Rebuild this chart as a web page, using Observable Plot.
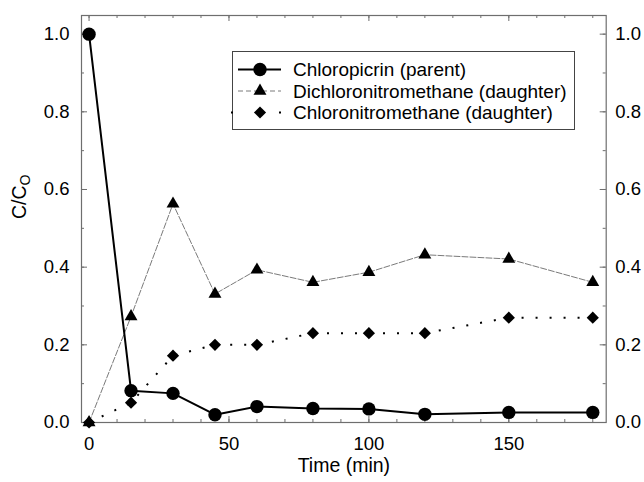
<!DOCTYPE html>
<html><head><meta charset="utf-8">
<script src="https://cdn.jsdelivr.net/npm/d3@7"></script>
<script src="https://cdn.jsdelivr.net/npm/@observablehq/plot@0.6"></script>
<style>
body{margin:0;background:#fff;}
#chart{width:644px;height:482px;}
</style>
</head><body><div id="chart"></div>
<script>
// ---- data ----
const times        = [0, 15, 30, 45, 60, 80, 100, 120, 150, 180];
const chloropicrin = [1.0, 0.082, 0.075, 0.02, 0.041, 0.036, 0.035, 0.021, 0.026, 0.026];
const dichloro     = [0, 0.273, 0.563, 0.331, 0.393, 0.361, 0.387, 0.432, 0.421, 0.361];
const chloronitro  = [0, 0.051, 0.172, 0.2, 0.2, 0.23, 0.23, 0.23, 0.27, 0.27];
const seriesNames  = ["Chloropicrin (parent)", "Dichloronitromethane (daughter)", "Chloronitromethane (daughter)"];
const xMajorTicks  = [0, 50, 100, 150];
const xMinorTicks  = [0, 10, 20, 30, 40, 50, 60, 70, 80, 90, 100, 110, 120, 130, 140, 150, 160, 170, 180];
const yMajorTicks  = [0, 0.2, 0.4, 0.6, 0.8, 1.0];
const yMinorTicks  = [0, 0.1, 0.2, 0.3, 0.4, 0.5, 0.6, 0.7, 0.8, 0.9, 1.0];
const xTitle = "Time (min)";
const yTitle = "C/C";
const yTitleSub = "O";

// ---- layout ----
const W = 644, H = 482, mL = 81, mR = 38.3, mT = 15, mB = 60;
const plotW = W - mL - mR, plotH = H - mT - mB;
const axisGray = "#6e6e6e";
const font = "'Liberation Sans', Arial, sans-serif";

const rows = (vals) => times.map((t, i) => ({t, v: vals[i]}));
const dP = rows(chloropicrin), dD = rows(dichloro), dC = rows(chloronitro);

const styles = [
  {stroke: "#000", strokeWidth: 2, dash: null, symbol: "circle", r: 6.7},
  {stroke: "#7a7a7a", strokeWidth: 1, dash: "6 2", symbol: "triangle", r: 4.8},
  {stroke: "#000", strokeWidth: 2, dash: "2 12", symbol: "diamond2", r: 5.5}
];

const plot = Plot.plot({
  width: W, height: H,
  marginLeft: mL, marginRight: mR, marginTop: mT, marginBottom: mB,
  style: {fontFamily: font, fontSize: "18px", color: "#000", background: "#fff"},
  x: {domain: [-2.7, 184.8]},
  y: {domain: [0, 1.048]},
  marks: [
    // inward ticks
    Plot.ruleX(xMinorTicks, {x: d => d, insetTop: plotH - 3, stroke: axisGray}),
    Plot.ruleX(xMajorTicks, {x: d => d, insetTop: plotH - 6, stroke: axisGray}),
    Plot.ruleX(xMinorTicks, {x: d => d, insetBottom: plotH - 3, stroke: axisGray}),
    Plot.ruleX(xMajorTicks, {x: d => d, insetBottom: plotH - 6, stroke: axisGray}),
    Plot.ruleY(yMinorTicks, {y: d => d, insetRight: plotW - 3, stroke: axisGray}),
    Plot.ruleY(yMajorTicks, {y: d => d, insetRight: plotW - 6, stroke: axisGray}),
    Plot.ruleY(yMinorTicks, {y: d => d, insetLeft: plotW - 3, stroke: axisGray}),
    Plot.ruleY(yMajorTicks, {y: d => d, insetLeft: plotW - 6, stroke: axisGray}),
    Plot.frame({stroke: axisGray, strokeWidth: 1.2}),
    Plot.axisX(xMajorTicks, {anchor: "bottom", tickSize: 0, tickPadding: 14, label: null, fontSize: 18.5}),
    Plot.axisY(yMajorTicks, {anchor: "left", tickSize: 0, tickPadding: 12, label: null, tickFormat: d3.format(".1f"), fontSize: 18.5}),
    Plot.axisY(yMajorTicks, {anchor: "right", tickSize: 0, tickPadding: 9, label: null, tickFormat: d3.format(".1f"), fontSize: 18.5}),
    Plot.text([xTitle], {text: d => d, frameAnchor: "bottom", dy: 49, fontSize: 19.5}),
    Plot.text([yTitle], {text: d => d, frameAnchor: "left", dx: -62, rotate: -90, fontSize: 19.5,
      render: (index, scales, values, dims, context, next) => {
        const g = next(index, scales, values, dims, context);
        const t = g.querySelector("text");
        if (t) {
          const ts = document.createElementNS("http://www.w3.org/2000/svg", "tspan");
          ts.setAttribute("dy", "0.3em");
          ts.setAttribute("font-size", "14");
          ts.textContent = yTitleSub;
          t.appendChild(ts);
        }
        return g;
      }}),
    // series lines
    Plot.line(dD, {x: "t", y: "v", stroke: styles[1].stroke, strokeWidth: styles[1].strokeWidth, strokeDasharray: styles[1].dash}),
    Plot.line(dC, {x: "t", y: "v", stroke: styles[2].stroke, strokeWidth: styles[2].strokeWidth, strokeDasharray: styles[2].dash, strokeLinecap: "butt"}),
    Plot.line(dP, {x: "t", y: "v", stroke: styles[0].stroke, strokeWidth: styles[0].strokeWidth}),
    // markers
    Plot.dot(dD, {x: "t", y: "v", symbol: styles[1].symbol, r: styles[1].r, fill: "#000", stroke: "none"}),
    Plot.dot(dC, {x: "t", y: "v", symbol: styles[2].symbol, r: styles[2].r, fill: "#000", stroke: "none"}),
    Plot.dot(dP, {x: "t", y: "v", symbol: styles[0].symbol, r: styles[0].r, fill: "#000", stroke: "none"})
  ]
});

// ---- legend (inside the plot, top right) ----
const svg = d3.select(plot);
const lg = svg.append("g").attr("font-family", font).attr("font-size", 19).attr("text-anchor", "start");
lg.append("rect").attr("x", 232.5).attr("y", 51.5).attr("width", 342).attr("height", 78)
  .attr("fill", "#fff").attr("stroke", "#444").attr("stroke-width", 1);
const symMap = {circle: d3.symbolCircle, triangle: d3.symbolTriangle, diamond2: d3.symbolDiamond2};
const rowY = [69.5, 91, 112.5];
seriesNames.forEach((name, i) => {
  const s = styles[i], y = rowY[i];
  const ln = lg.append("line").attr("y1", y).attr("y2", y)
    .attr("stroke", s.stroke).attr("stroke-width", s.strokeWidth);
  if (i === 2) ln.attr("x1", 231).attr("x2", 283).attr("stroke-dasharray", "2 46");
  else ln.attr("x1", 238).attr("x2", 281).attr("stroke-dasharray", s.dash ? "5 3" : null);
  lg.append("path").attr("transform", `translate(260,${y})`)
    .attr("d", d3.symbol(symMap[s.symbol], Math.PI * s.r * s.r)()).attr("fill", "#000");
  lg.append("text").attr("x", 293).attr("y", y).attr("dy", "0.35em").attr("fill", "#000")
    .attr("text-anchor", "start").text(name);
});

document.getElementById("chart").appendChild(plot);
</script>
</body></html>
